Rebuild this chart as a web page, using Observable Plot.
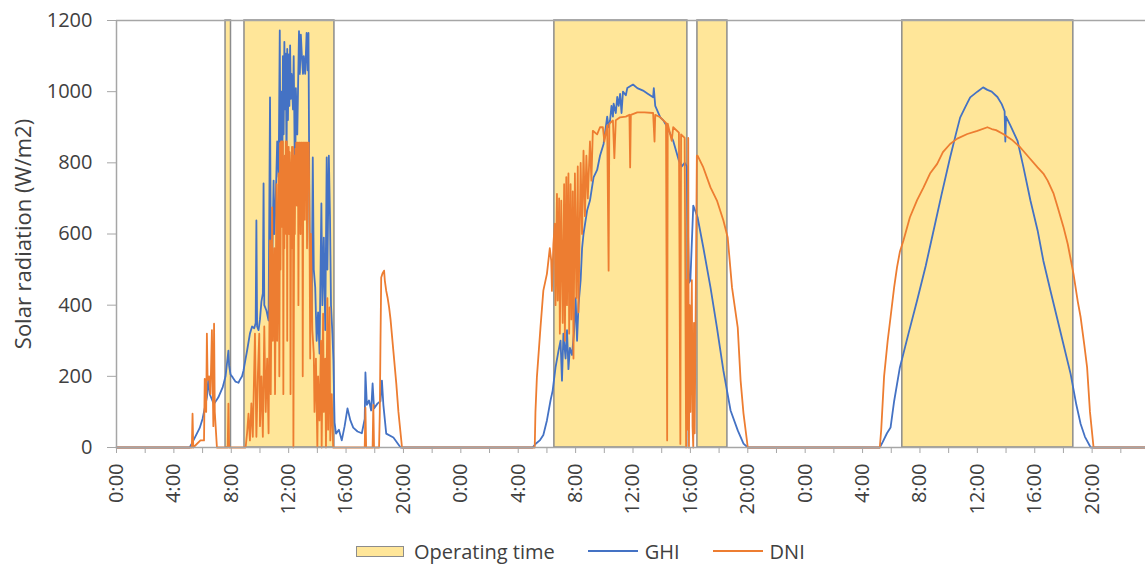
<!DOCTYPE html>
<html>
<head>
<meta charset="utf-8">
<script src="https://cdn.jsdelivr.net/npm/d3@7"></script>
<script src="https://cdn.jsdelivr.net/npm/@observablehq/plot@0.6"></script>
<style>
  html, body { margin: 0; padding: 0; background: #fff; }
  body { font-family: "Open Sans", sans-serif; }
  #chart { width: 1145px; height: 570px; overflow: hidden; }
  .legend { display: flex; align-items: center; height: 32px; margin-left: 356px; font-size: 20px; color: #404040; font-family: "Open Sans", sans-serif; }
  .sw { width: 46px; height: 9px; background: #FFE699; border: 1.5px solid #8c8c8c; margin-right: 10px; }
  .ln { width: 50px; height: 0; border-top: 2.5px solid; margin-right: 7px; }
  .gap { width: 33px; }
</style>
</head>
<body>
<div id="chart"></div>
<script>
// ---- Data (hour of day, W/m2) ----
const ghiDay1 = [[0,0],[5.1,0],[5.3,15],[5.6,39],[5.8,55],[6.0,81],[6.2,120],[6.3,141],[6.4,193],[6.5,150],[6.7,130],[6.8,123],[7.0,135],[7.1,141],[7.3,160],[7.4,169],[7.6,200],[7.7,236],[7.8,272],[7.85,230],[7.95,205],[8.1,197],[8.3,185],[8.5,182],[8.6,190],[8.75,200],[8.85,216],[9.0,250],[9.1,272],[9.3,320],[9.45,340],[9.6,335],[9.7,350],[9.75,638],[9.8,340],[9.9,330],[10.0,360],[10.1,410],[10.2,433],[10.25,742],[10.3,400],[10.45,385],[10.6,357],[10.7,984],[10.75,590],[10.85,520],[10.95,750],[11.0,600],[11.1,700],[11.2,860],[11.3,760],[11.38,1172],[11.42,860],[11.5,1000],[11.55,720],[11.6,1100],[11.65,880],[11.7,1140],[11.75,950],[11.8,1107],[11.85,800],[11.9,1120],[11.95,920],[12.0,1105],[12.05,960],[12.1,1130],[12.15,980],[12.2,1050],[12.3,950],[12.35,1100],[12.45,700],[12.5,1010],[12.6,880],[12.65,1000],[12.72,1170],[12.78,1050],[12.85,1160],[12.92,1100],[13.0,1050],[13.05,1100],[13.15,1050],[13.25,1165],[13.32,1060],[13.38,1165],[13.45,640],[13.52,420],[13.6,357],[13.68,815],[13.75,500],[13.85,450],[13.95,300],[14.05,380],[14.15,264],[14.28,686],[14.35,400],[14.45,590],[14.55,330],[14.65,815],[14.7,500],[14.8,820],[14.88,650],[14.95,400],[15.05,320],[15.12,244],[15.2,70],[15.3,39],[15.5,50],[15.7,20],[15.9,60],[16.1,110],[16.3,76],[16.5,56],[16.8,45],[17.1,40],[17.3,80],[17.35,211],[17.45,120],[17.6,132],[17.75,104],[17.85,180],[17.95,110],[18.2,124],[18.4,130],[18.5,188],[18.6,120],[18.8,39],[19.3,28],[19.8,0],[24,0]];
const dniDay1 = [[0,0],[5.25,0],[5.3,95],[5.35,0],[5.85,20],[6.1,20],[6.15,193],[6.25,100],[6.3,320],[6.35,190],[6.45,200],[6.55,150],[6.65,330],[6.75,60],[6.8,348],[6.85,100],[7.0,0],[7.75,0],[7.8,123],[7.85,0],[9.0,0],[9.1,40],[9.2,95],[9.3,20],[9.4,124],[9.5,30],[9.65,320],[9.75,30],[9.85,200],[9.95,320],[10.0,60],[10.1,200],[10.2,30],[10.3,340],[10.4,100],[10.5,250],[10.6,40],[10.7,582],[10.75,150],[10.85,675],[10.9,300],[11.0,560],[11.05,150],[11.15,740],[11.2,300],[11.3,770],[11.35,200],[11.4,855],[11.43,500],[11.47,860],[11.5,620],[11.53,860],[11.56,650],[11.6,860],[11.63,150],[11.66,800],[11.7,560],[11.73,820],[11.77,670],[11.8,860],[11.83,600],[11.87,860],[11.9,300],[11.93,845],[11.97,700],[12.0,845],[12.03,600],[12.07,830],[12.1,800],[12.13,150],[12.17,720],[12.2,560],[12.23,845],[12.27,640],[12.3,845],[12.33,0],[12.37,500],[12.4,820],[12.43,600],[12.47,840],[12.5,700],[12.53,857],[12.57,680],[12.6,857],[12.65,857],[12.68,400],[12.72,857],[12.8,857],[12.83,600],[12.87,857],[12.95,857],[12.98,200],[13.02,857],[13.1,857],[13.13,640],[13.17,857],[13.25,857],[13.28,560],[13.32,857],[13.4,857],[13.45,640],[13.5,250],[13.55,600],[13.65,330],[13.75,264],[13.8,100],[13.9,250],[14.0,0],[14.05,200],[14.15,76],[14.25,300],[14.3,0],[14.4,376],[14.45,100],[14.55,250],[14.6,0],[14.7,420],[14.75,50],[14.85,394],[14.9,20],[15.0,150],[15.1,0],[17.3,0],[17.35,112],[17.4,0],[17.85,0],[17.9,120],[17.95,0],[18.3,0],[18.35,95],[18.4,300],[18.45,478],[18.55,490],[18.65,497],[18.7,470],[18.8,440],[18.9,420],[19.0,394],[19.1,360],[19.3,270],[19.5,180],[19.65,100],[19.9,0],[24,0]];
const ghiDay2 = [[0,0],[5.0,0],[5.2,10],[5.5,20],[5.75,35],[6.0,76],[6.25,132],[6.4,160],[6.6,225],[6.8,270],[6.95,300],[7.05,188],[7.15,320],[7.3,250],[7.4,330],[7.5,220],[7.6,280],[7.75,260],[7.9,330],[8.0,420],[8.1,300],[8.2,400],[8.35,470],[8.45,560],[8.55,600],[8.8,666],[9.0,694],[9.25,759],[9.5,780],[9.7,820],[9.95,853],[10.2,930],[10.3,900],[10.4,919],[10.5,960],[10.6,930],[10.65,966],[10.8,940],[10.9,985],[11.0,960],[11.1,994],[11.2,940],[11.3,1000],[11.5,990],[11.6,1010],[11.8,1015],[12.0,1020],[12.3,1010],[12.7,1003],[13.0,995],[13.4,984],[13.45,1010],[13.55,960],[13.9,928],[14.1,920],[14.4,900],[14.8,862],[15.2,806],[15.4,790],[15.6,800],[15.75,790],[15.9,463],[16.0,470],[16.2,680],[16.5,647],[16.9,562],[17.4,450],[17.85,337],[18.3,216],[18.8,104],[19.3,48],[19.7,11],[20.0,0],[24,0]];
const dniDay2 = [[0,0],[5.15,0],[5.2,100],[5.3,197],[5.55,337],[5.75,441],[6.0,488],[6.2,560],[6.3,525],[6.35,440],[6.45,572],[6.55,629],[6.6,400],[6.7,713],[6.75,413],[6.85,700],[6.9,320],[7.0,694],[7.1,350],[7.2,740],[7.25,300],[7.35,760],[7.4,400],[7.5,770],[7.55,320],[7.65,740],[7.7,360],[7.8,720],[7.85,250],[7.95,770],[8.05,420],[8.15,790],[8.2,380],[8.35,800],[8.45,600],[8.55,834],[8.65,650],[8.75,820],[8.85,700],[9.0,860],[9.1,750],[9.2,890],[9.5,880],[9.7,900],[9.9,900],[10.0,860],[10.2,905],[10.3,497],[10.35,910],[10.6,919],[10.7,813],[10.8,920],[11.1,928],[11.5,930],[11.75,935],[11.8,787],[11.85,935],[12.3,942],[12.8,942],[13.4,940],[13.5,860],[13.55,935],[13.9,928],[14.3,912],[14.38,20],[14.42,910],[14.7,862],[14.8,900],[15.2,885],[15.3,10],[15.35,880],[15.6,870],[15.7,0],[15.75,470],[15.8,50],[15.85,870],[15.9,0],[15.95,400],[16.0,100],[16.05,300],[16.1,470],[16.15,60],[16.2,0],[16.25,350],[16.3,40],[16.35,300],[16.45,820],[16.5,820],[16.9,787],[17.4,731],[17.85,694],[18.3,638],[18.6,590],[18.9,450],[19.3,337],[19.5,188],[19.7,96],[20.0,0],[24,0]];
const ghiDay3 = [[0,0],[5.2,0],[5.4,15],[5.7,40],[5.95,56],[6.2,130],[6.6,225],[7.2,320],[7.8,413],[8.4,510],[8.95,610],[9.5,710],[10.1,815],[10.5,880],[10.8,927],[11.2,960],[11.5,984],[12.0,1000],[12.4,1012],[12.7,1005],[13.0,1000],[13.4,985],[13.7,965],[13.9,945],[13.95,860],[14.0,930],[14.3,905],[14.8,862],[15.2,790],[15.7,694],[16.2,610],[16.6,525],[17.1,440],[17.6,357],[18.0,290],[18.5,207],[18.9,120],[19.2,66],[19.5,30],[19.9,0],[23.72,0]];
const dniDay3 = [[0,0],[5.2,0],[5.3,50],[5.5,200],[5.75,300],[5.95,366],[6.2,450],[6.4,506],[6.6,550],[6.85,582],[7.3,647],[7.8,695],[8.25,731],[8.7,770],[9.2,797],[9.6,830],[10.1,853],[10.6,868],[11.3,881],[12.0,890],[12.7,900],[13.0,895],[13.3,892],[13.8,881],[14.4,865],[15.0,843],[15.6,815],[16.2,787],[16.6,770],[16.9,750],[17.3,715],[17.6,675],[18.0,620],[18.3,572],[18.7,488],[19.0,410],[19.2,366],[19.45,290],[19.65,225],[19.85,100],[20.1,0],[23.72,0]];

// Operating time windows (hours from start of day 1)
const opStart = [7.6, 8.92, 30.52, 40.49, 54.77];
const opEnd   = [7.98, 15.19, 39.79, 42.58, 66.69];

const yTicks = [0, 200, 400, 600, 800, 1000, 1200];
const xTicks = d3.range(0, 72, 2);
const xTickLabel = h => (h % 4 === 0 ? `${h % 24}:00` : "");
const yLabel = "Solar radiation (W/m2)";
const legendItems = ["Operating time", "GHI", "DNI"];

// ---- Build ----
const toSeries = days => days.flatMap((d, i) => d.map(([h, v]) => ({t: h + 24 * i, v})));
const ghi = toSeries([ghiDay1, ghiDay2, ghiDay3]);
const dni = toSeries([dniDay1, dniDay2, dniDay3]);
const ops = opStart.map((s, i) => ({s, e: opEnd[i]}));

const axisGray = "#a6a6a6";
const textGray = "#404040";

const plot = Plot.plot({
  width: 1145,
  height: 535,
  marginLeft: 116,
  marginRight: 0,
  marginTop: 20,
  marginBottom: 88,
  style: {fontFamily: "Open Sans", fontSize: "20px", color: textGray, background: "white", overflow: "visible"},
  x: {domain: [0, 71.72]},
  y: {domain: [0, 1200]},
  marks: [
    Plot.rect(ops, {x1: "s", x2: "e", y1: () => 0, y2: () => 1200, fill: "#FFE699", stroke: "#8c8c8c", strokeWidth: 1.5}),
    Plot.ruleY([1200], {stroke: axisGray, strokeWidth: 1.5}),
    Plot.line(ghi, {x: "t", y: "v", stroke: "#4472C4", strokeWidth: 1.8}),
    Plot.line(dni, {x: "t", y: "v", stroke: "#ED7D31", strokeWidth: 1.8}),
    Plot.ruleX([0], {stroke: axisGray, strokeWidth: 1.5}),
    Plot.ruleY([0], {stroke: axisGray, strokeWidth: 1.5}),
    Plot.axisY({ticks: yTicks, tickSize: 9, tickPadding: 15, tickFormat: d => String(d), stroke: axisGray, fill: textGray, label: null}),
    Plot.axisX({ticks: xTicks, tickSize: 6, tickPadding: 10, tickRotate: -90, tickFormat: xTickLabel, stroke: axisGray, fill: textGray, label: null}),
    Plot.text([yLabel], {text: d => d, frameAnchor: "left", textAnchor: "middle", dx: -93, rotate: -90, fill: textGray, fontSize: 22})
  ]
});

const chart = document.getElementById("chart");
chart.appendChild(plot);

const legend = document.createElement("div");
legend.className = "legend";
legend.innerHTML =
  `<span class="sw"></span><span>${legendItems[0]}</span><span class="gap"></span>` +
  `<span class="ln" style="border-color:#4472C4"></span><span>${legendItems[1]}</span><span class="gap"></span>` +
  `<span class="ln" style="border-color:#ED7D31"></span><span>${legendItems[2]}</span>`;
chart.appendChild(legend);
</script>
</body>
</html>
